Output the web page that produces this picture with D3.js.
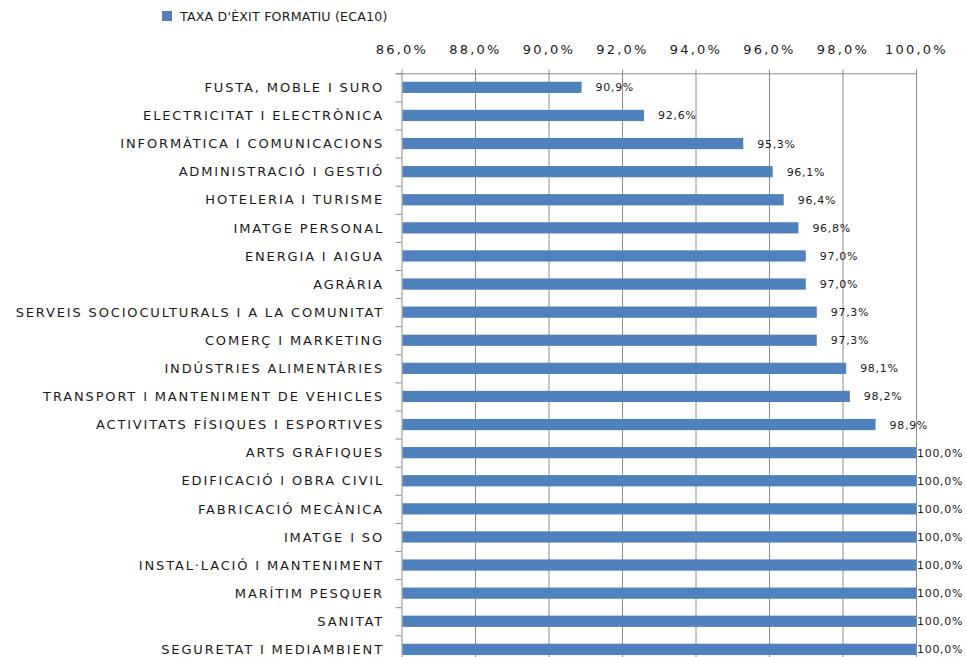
<!DOCTYPE html>
<html>
<head>
<meta charset="utf-8">
<script src="https://cdn.jsdelivr.net/npm/d3@7/dist/d3.min.js"></script>
<style>
  html, body { margin: 0; padding: 0; background: #fff; }
  svg { display: block; }
  text { font-family: "DejaVu Sans", sans-serif; fill: #1a1a1a; }
</style>
</head>
<body>
<svg id="chart" width="966" height="657"></svg>
<script>
// Taxa d'èxit formatiu per família professional
const categories = [
  "FUSTA, MOBLE I SURO",
  "ELECTRICITAT I ELECTRÒNICA",
  "INFORMÀTICA I COMUNICACIONS",
  "ADMINISTRACIÓ I GESTIÓ",
  "HOTELERIA I TURISME",
  "IMATGE PERSONAL",
  "ENERGIA I AIGUA",
  "AGRÀRIA",
  "SERVEIS SOCIOCULTURALS I A LA COMUNITAT",
  "COMERÇ I MARKETING",
  "INDÚSTRIES ALIMENTÀRIES",
  "TRANSPORT I MANTENIMENT DE VEHICLES",
  "ACTIVITATS FÍSIQUES I ESPORTIVES",
  "ARTS GRÀFIQUES",
  "EDIFICACIÓ I OBRA CIVIL",
  "FABRICACIÓ MECÀNICA",
  "IMATGE I SO",
  "INSTAL·LACIÓ I MANTENIMENT",
  "MARÍTIM PESQUER",
  "SANITAT",
  "SEGURETAT I MEDIAMBIENT"
];
const values = [90.9, 92.6, 95.3, 96.1, 96.4, 96.8, 97.0, 97.0, 97.3, 97.3,
                98.1, 98.2, 98.9, 100, 100, 100, 100, 100, 100, 100, 100];
const tickValues = [86, 88, 90, 92, 94, 96, 98, 100];
const seriesName = "TAXA D'ÈXIT FORMATIU (ECA10)";

const svg = d3.select("#chart");
const plotLeft = 401.5, plotRight = 916, plotTop = 73.3, step = 28.1;
const barColor = "#4f81bd";
const gridColor = "#8c8c8c";

const x = d3.scaleLinear().domain([86, 100]).range([plotLeft, plotRight]);
const y = d3.scaleBand().domain(categories)
  .range([plotTop, plotTop + step * categories.length])
  .paddingInner(0.6).paddingOuter(0.3);

const fmt = v => d3.format(".1f")(v).replace(".", ",") + "%";

// legend
const lg = svg.append("g");
lg.append("rect").attr("x", 162).attr("y", 11).attr("width", 10).attr("height", 10).attr("fill", barColor);
lg.append("text").attr("x", 180).attr("y", 21).attr("font-size", 12.6).attr("letter-spacing", 0.2)
  .text(seriesName);

// vertical gridlines
const plotBottom = plotTop + step * categories.length;
svg.append("g").selectAll("line").data(tickValues).join("line")
  .attr("x1", d => x(d) + 0.5).attr("x2", d => x(d) + 0.5)
  .attr("y1", plotTop - 4).attr("y2", plotBottom)
  .attr("stroke", gridColor).attr("stroke-width", 1);

// top axis
const ax = svg.append("g").attr("transform", `translate(0,${plotTop})`)
  .call(d3.axisTop(x).tickValues(tickValues).tickFormat(fmt).tickSize(0).tickPadding(19));
ax.select(".domain").attr("stroke", gridColor).attr("d", `M${plotLeft - 6},0.5H${plotRight + 1}`);
ax.selectAll("text").attr("font-family", "DejaVu Sans, sans-serif").attr("font-size", 13)
  .attr("letter-spacing", 2.2).attr("fill", "#1a1a1a");

// left category ticks at band boundaries
svg.append("g").selectAll("line").data(d3.range(categories.length + 1)).join("line")
  .attr("x1", plotLeft - 6).attr("x2", plotLeft)
  .attr("y1", i => plotTop + i * step + 0.5).attr("y2", i => plotTop + i * step + 0.5)
  .attr("stroke", gridColor);

// category labels
svg.append("g").selectAll("text").data(categories).join("text")
  .attr("x", 384).attr("y", d => y(d) + y.bandwidth() / 2)
  .attr("dy", "0.36em").attr("text-anchor", "end")
  .attr("font-size", 13).attr("letter-spacing", 1.85)
  .text(d => d);

// bars
svg.append("g").selectAll("rect").data(values).join("rect")
  .attr("x", x(86) + 1).attr("y", (d, i) => y(categories[i]))
  .attr("width", d => x(d) - x(86) - 1).attr("height", y.bandwidth())
  .attr("fill", barColor);

// value labels
svg.append("g").selectAll("text").data(values).join("text")
  .attr("x", d => d >= 100 ? x(d) + 1 : x(d) + 14)
  .attr("y", (d, i) => y(categories[i]) + y.bandwidth() / 2)
  .attr("dy", "0.36em").attr("font-size", 11).attr("letter-spacing", 0.7)
  .text(d => fmt(d));
</script>
</body>
</html>
